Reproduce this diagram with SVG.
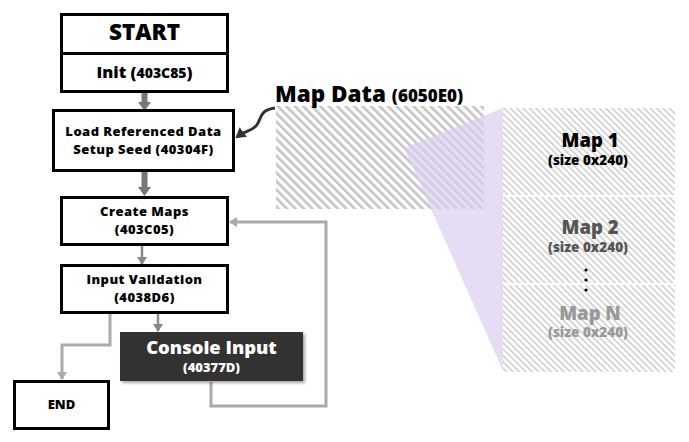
<svg xmlns="http://www.w3.org/2000/svg" width="689" height="442" viewBox="0 0 689 442">
<style>
.t{font-family:"Open Sans","DejaVu Sans",sans-serif;font-weight:800;text-anchor:middle;fill:#000}
.s{font-size:13px;letter-spacing:0.45px}
.box{fill:#fff;stroke:#000;stroke-width:3}
.thick{stroke:#777;stroke-width:6;fill:none}
.thin{stroke:#888;stroke-width:2.5;fill:none}
.loop{stroke:#aaa;stroke-width:3;fill:none}
</style>
<defs>
<pattern id="h1" patternUnits="userSpaceOnUse" width="6" height="6" patternTransform="rotate(-45)">
<rect width="6" height="6" fill="#fff"/><rect width="2.6" height="6" fill="#c4c4c4"/>
</pattern>
<pattern id="h2" patternUnits="userSpaceOnUse" width="4.5" height="4.5" patternTransform="rotate(-45)">
<rect width="4.5" height="4.5" fill="#fff"/><rect width="1.6" height="4.5" fill="#cfcfcf"/>
</pattern>
<marker id="ah" markerWidth="10" markerHeight="10" refX="7" refY="5" orient="auto" markerUnits="userSpaceOnUse">
<path d="M0,0 L8,5 L0,10 Z" fill="#888"/>
</marker>
<marker id="ahl" markerWidth="10" markerHeight="10" refX="7" refY="5" orient="auto" markerUnits="userSpaceOnUse">
<path d="M0,0 L8,5 L0,10 Z" fill="#aaa"/>
</marker>
<marker id="ahd" markerWidth="12" markerHeight="12" refX="8" refY="6" orient="auto" markerUnits="userSpaceOnUse">
<path d="M0,0 L10,6 L0,12 Z" fill="#333"/>
</marker>
<filter id="sh" x="-10%" y="-10%" width="130%" height="140%">
<feDropShadow dx="2" dy="2" stdDeviation="1.5" flood-color="#000" flood-opacity="0.35"/>
</filter>
</defs>

<g id="map-data">
<rect x="276" y="106" width="208" height="103" fill="url(#h1)"/>
<text x="275" y="102" class="t" style="text-anchor:start;font-size:22.5px">Map Data <tspan style="font-size:17px">(6050E0)</tspan></text>
</g>

<polygon id="zoom-wedge" points="404,148 503,108 503,371" fill="#dccdef" fill-opacity="0.7"/>

<g id="maps">
<rect x="503" y="108" width="172" height="87" fill="url(#h2)"/>
<rect x="503" y="197" width="172" height="86" fill="url(#h2)"/>
<rect x="503" y="285" width="172" height="87" fill="url(#h2)"/>
<g id="map1">
<text x="590" y="147" class="t" style="font-size:18.5px">Map 1</text>
<text x="588" y="165" class="t" style="font-size:13.5px">(size 0x240)</text>
</g>
<g id="map2">
<text x="590" y="234" class="t" style="font-size:18.5px;fill:#555">Map 2</text>
<text x="588" y="252" class="t" style="font-size:13.5px;fill:#555">(size 0x240)</text>
</g>
<g id="dots" fill="#000">
<circle cx="586" cy="270" r="1.6"/><circle cx="586" cy="280" r="1.6"/><circle cx="586" cy="290" r="1.6"/>
</g>
<g id="mapN">
<text x="590" y="320" class="t" style="font-size:18.5px;fill:#999">Map N</text>
<text x="588" y="337" class="t" style="font-size:13.5px;fill:#999">(size 0x240)</text>
</g>
</g>

<g id="connectors">
<path class="thick" d="M144.5,92 V104" />
<path d="M138,102 L151,102 L144.5,111 Z" fill="#777"/>
<path class="thick" d="M144.5,172 V189" />
<path d="M138,187 L151,187 L144.5,196 Z" fill="#777"/>
<path class="thin" d="M142,246 V264" marker-end="url(#ah)"/>
<path class="thin" d="M158,314 V331" marker-end="url(#ah)"/>
<path class="loop" d="M110,314 V345 H62 V379" marker-end="url(#ahl)"/>
<path class="loop" d="M211,382 V406 H326 V222 H230" marker-end="url(#ahl)"/>
<path d="M275,108 C258,110 262,120 256,126 C250,132 246,130 237,137" fill="none" stroke="#333" stroke-width="3" marker-end="url(#ahd)"/>
</g>

<g id="start">
<rect class="box" x="61.5" y="14.5" width="166" height="39"/>
<text x="144.5" y="40" class="t" style="font-size:22.5px">START</text>
</g>
<g id="init">
<rect class="box" x="61.5" y="53.5" width="166" height="38"/>
<text x="144.5" y="78" class="t" style="font-size:16.5px">Init (<tspan style="font-size:14px">403C85</tspan>)</text>
</g>
<g id="load">
<rect class="box" x="53.5" y="110.5" width="180" height="60"/>
<text x="143.5" y="136" class="t s">Load Referenced Data</text>
<text x="143.5" y="154" class="t s">Setup Seed (40304F)</text>
</g>
<g id="create">
<rect class="box" x="61.5" y="197.5" width="166" height="47"/>
<text x="144.5" y="216" class="t s">Create Maps</text>
<text x="144.5" y="234" class="t s">(403C05)</text>
</g>
<g id="validation">
<rect class="box" x="61.5" y="265.5" width="166" height="47"/>
<text x="144.5" y="284" class="t s">Input Validation</text>
<text x="144.5" y="302" class="t s">(4038D6)</text>
</g>
<g id="console">
<rect x="120" y="332" width="183" height="49" fill="#333" filter="url(#sh)"/>
<text x="211.5" y="354" class="t" style="font-size:18.4px;fill:#fff">Console Input</text>
<text x="211.5" y="372" class="t" style="font-size:13px;fill:#fff">(40377D)</text>
</g>
<g id="end">
<rect class="box" x="14.5" y="381.5" width="94" height="47"/>
<text x="61.5" y="409" class="t" style="font-size:13px">END</text>
</g>
</svg>
